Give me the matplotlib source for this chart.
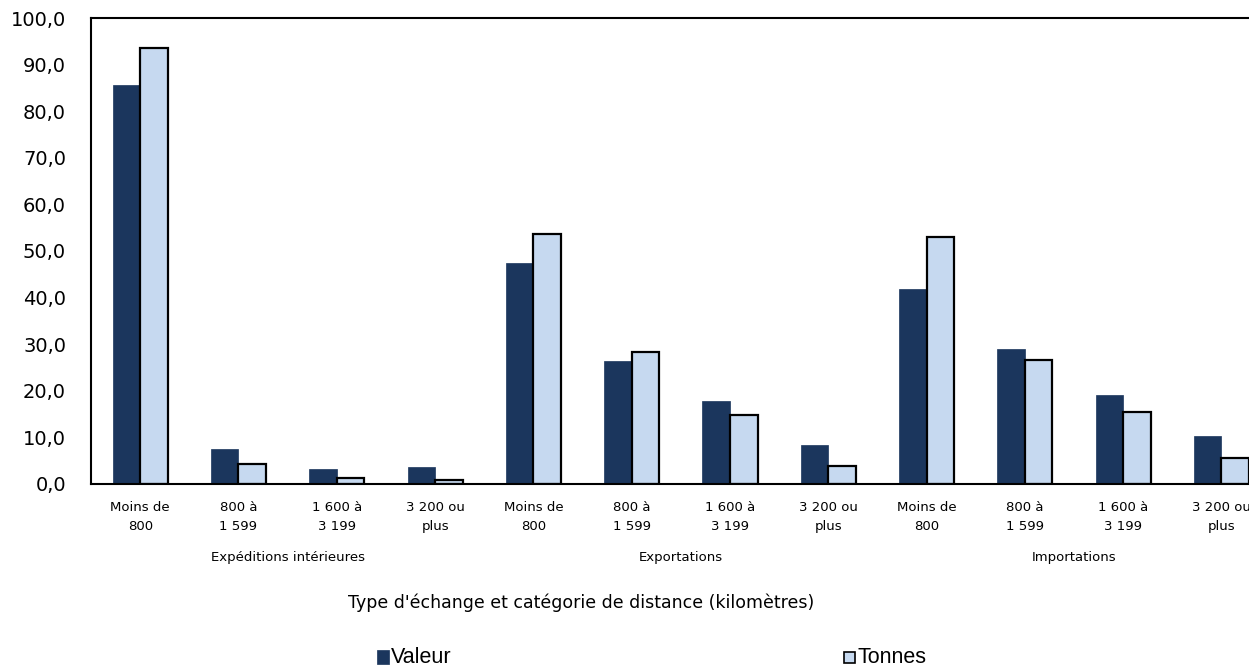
import matplotlib
matplotlib.use("Agg")
import matplotlib.pyplot as plt
import numpy as np
from matplotlib.patches import Rectangle

# data
categories = ["Moins de\n800", "800 à\n1 599", "1 600 à\n3 199", "3 200 ou\nplus"] * 3
groups = ["Expéditions intérieures", "Exportations", "Importations"]
valeur = [85.6, 7.5, 3.2, 3.6, 47.4, 26.3, 17.8, 8.3, 41.8, 28.9, 19.1, 10.4]
tonnes = [93.6, 4.3, 1.3, 0.9, 53.6, 28.3, 14.7, 3.9, 52.9, 26.5, 15.5, 5.6]
yticks = np.arange(0, 101, 10)

dark = "#1B365D"
light = "#C6D9F0"

plt.rcParams['font.family'] = ['DejaVu Sans']

fig = plt.figure(figsize=(12.49, 6.67), dpi=100)
ax = fig.add_axes([0.0729, 0.2744, 1 - 0.0729, 0.973 - 0.2744])

x = np.arange(len(categories))
w = 0.28
ax.bar(x - w / 2, valeur, width=w, color=dark, edgecolor=dark, linewidth=0.5)
ax.bar(x + w / 2, tonnes, width=w, color=light, edgecolor="black", linewidth=1.6)

ax.set_xlim(-0.5, 11.28)
ax.set_ylim(0, 100)
ax.set_yticks(yticks)
ax.set_yticklabels([f"{v:.1f}".replace(".", ",") for v in yticks], fontsize=14)
ax.tick_params(axis="y", length=0, pad=18)
ax.set_xticks(x)
ax.set_xticklabels(categories, fontsize=9.5, linespacing=1.6)
ax.tick_params(axis="x", length=0, pad=12)

for s in ["left", "top", "bottom"]:
    ax.spines[s].set_linewidth(1.5)
    ax.spines[s].set_color("black")
ax.spines["right"].set_visible(False)

# group labels under the category labels
for i, g in enumerate(groups):
    xc = 4 * i + 1.5
    ax.text(xc, -15.8, g, ha="center", va="center", fontsize=9.5,
            transform=ax.transData, clip_on=False)

fig.text(0.465, 1 - 603 / 667, "Type d'échange et catégorie de distance (kilomètres)",
         ha="center", va="center", fontsize=12.5)

# legend drawn as two separate entries, like the original
fig.patches.append(Rectangle((377 / 1249, 1 - 664 / 667), 12 / 1249, 14 / 667,
                             transform=fig.transFigure, facecolor=dark,
                             edgecolor=dark, linewidth=0.5))
fig.text(391 / 1249, 1 - 663 / 667, "Valeur", ha="left", va="baseline",
         fontsize=15.5, family=['Liberation Sans'])
fig.patches.append(Rectangle((844 / 1249, 1 - 663 / 667), 11 / 1249, 11 / 667,
                             transform=fig.transFigure, facecolor=light,
                             edgecolor="black", linewidth=1.2))
fig.text(858 / 1249, 1 - 663 / 667, "Tonnes", ha="left", va="baseline",
         fontsize=15.5, family=['Liberation Sans'])

fig.savefig("out.png", dpi=100)
